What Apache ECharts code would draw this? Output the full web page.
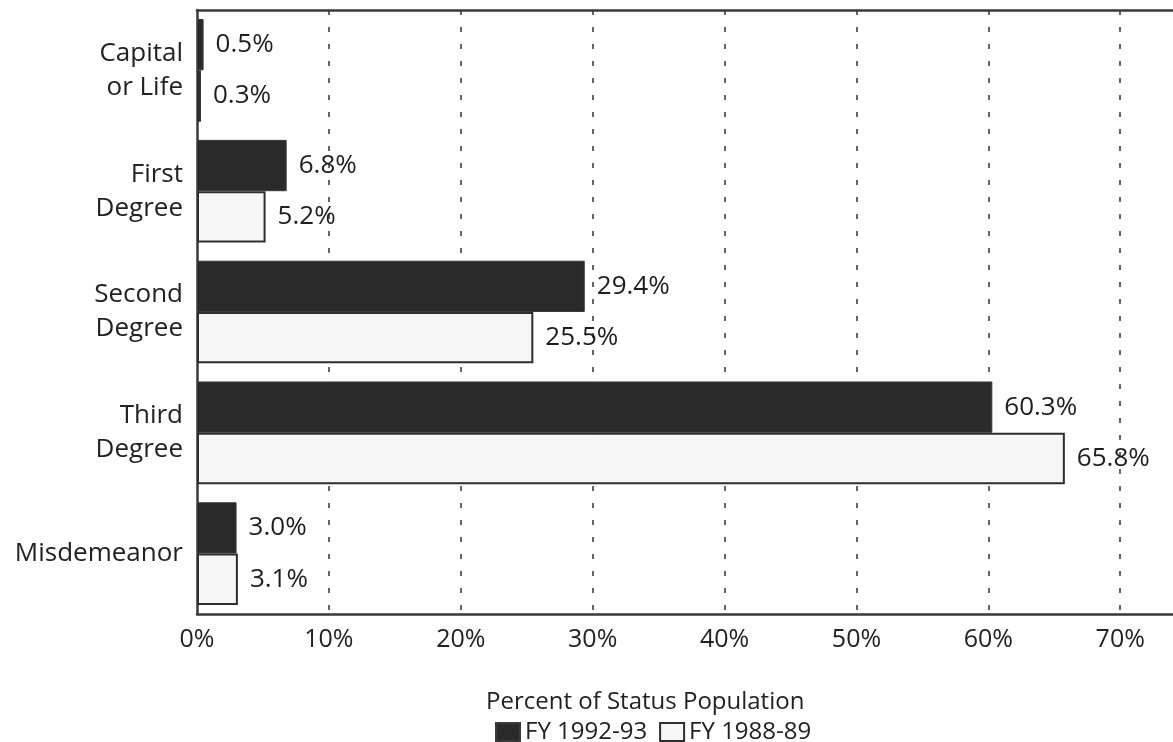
<!DOCTYPE html>
<html>
<head>
<meta charset="utf-8">
<script src="https://cdn.jsdelivr.net/npm/echarts@6/dist/echarts.min.js"></script>
<style>
  html, body { margin: 0; padding: 0; background: #ffffff; }
  #chart { width: 1173px; height: 742px; }
</style>
</head>
<body>
<div id="chart"></div>
<script>
const categories = ['Capital\nor Life', 'First\nDegree', 'Second\nDegree', 'Third\nDegree', 'Misdemeanor'];
const seriesNames = ['FY 1992-93', 'FY 1988-89'];
const fy1992 = [0.5, 6.8, 29.4, 60.3, 3.0];
const fy1988 = [0.3, 5.2, 25.5, 65.8, 3.1];
const axisTitle = 'Percent of Status Population';

const FONT = '"Open Sans", "DejaVu Sans", sans-serif';
const chart = echarts.init(document.getElementById('chart'), null, { renderer: 'canvas' });

const labelOpt = {
  show: true,
  position: 'right',
  distance: 12,
  color: '#1e1e1e',
  fontFamily: FONT,
  fontSize: 26,
  formatter: p => p.value.toFixed(1) + '%'
};

chart.setOption({
  animation: false,
  backgroundColor: '#ffffff',
  title: {
    text: axisTitle,
    left: 486,
    top: 690,
    padding: 0,
    textStyle: { fontFamily: FONT, fontSize: 24, fontWeight: 'normal', color: '#222' }
  },
  legend: {
    data: seriesNames,
    left: 495,
    top: 720,
    padding: 0,
    itemWidth: 24,
    itemHeight: 18,
    itemGap: 12,
    textStyle: { fontFamily: FONT, fontSize: 24, color: '#222' },
    icon: 'rect'
  },
  grid: { left: 197, right: 0, top: 10, bottom: 128, containLabel: false },
  xAxis: [{
    type: 'value',
    min: 0,
    max: 74,
    interval: 10,
    position: 'bottom',
    axisLine: { show: true, lineStyle: { color: '#3a3a3a', width: 2.5 } },
    axisTick: { show: false },
    axisLabel: {
      fontFamily: FONT, fontSize: 25, color: '#222', margin: 13,
      showMaxLabel: false,
      formatter: v => v + '%'
    },
    splitLine: {
      show: true, showMinLine: false, showMaxLine: false,
      lineStyle: { color: '#333', type: [5, 12], width: 1.5 }
    }
  }, {
    type: 'value',
    min: 0,
    max: 74,
    interval: 10,
    position: 'top',
    axisLine: { show: true, lineStyle: { color: '#3a3a3a', width: 2.5 } },
    axisTick: { show: false },
    axisLabel: { show: false },
    splitLine: { show: false }
  }],
  yAxis: {
    type: 'category',
    data: categories,
    inverse: true,
    axisLine: { show: true, lineStyle: { color: '#3a3a3a', width: 2.5 } },
    axisTick: { show: false },
    axisLabel: {
      fontFamily: FONT, fontSize: 26, color: '#222', margin: 14,
      align: 'right', lineHeight: 34
    }
  },
  series: [{
    name: seriesNames[0],
    type: 'bar',
    data: fy1992,
    barCategoryGap: '15%',
    barGap: '0%',
    itemStyle: { color: '#2a2a2a', borderColor: '#3a3a3a', borderWidth: 1 },
    label: labelOpt
  }, {
    name: seriesNames[1],
    type: 'bar',
    data: fy1988,
    barCategoryGap: '15%',
    barGap: '0%',
    itemStyle: { color: '#f6f6f6', borderColor: '#2e2e2e', borderWidth: 2 },
    label: labelOpt
  }]
});
</script>
</body>
</html>
